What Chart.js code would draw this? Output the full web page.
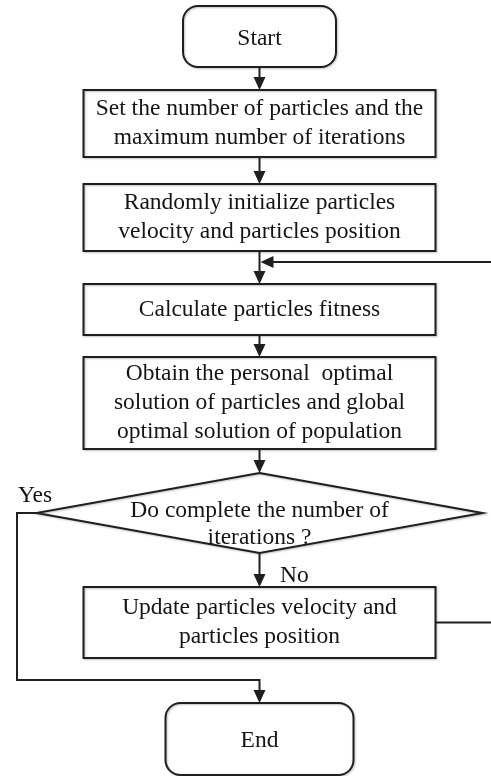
<!DOCTYPE html>
<html>
<head>
<meta charset="utf-8">
<script src="https://cdn.jsdelivr.net/npm/chart.js@4.4.1/dist/chart.umd.min.js"></script>
<style>
  html, body { margin: 0; padding: 0; background: #fff; }
  #wrap { width: 491px; height: 776px; }
</style>
</head>
<body>
<div id="wrap"><canvas id="flowChart"></canvas></div>
<script>
// 1. Flow steps (text of every box, top to bottom)
const stepLabels = [
    ['Start'],
    ['Set the number of particles and the', 'maximum number of iterations'],
    ['Randomly initialize particles', 'velocity and particles position'],
    ['Calculate particles fitness'],
    ['Obtain the personal  optimal', 'solution of particles and global', 'optimal solution of population'],
    ['Do complete the number of', 'iterations ?'],
    ['Update particles velocity and', 'particles position'],
    ['End']
];
const stepKinds = ['terminal', 'process', 'process', 'process', 'process', 'decision', 'process', 'terminal'];
const branchLabels = ['Yes', 'No'];

// links between steps: [from, to, kind]
const links = [
    [0, 1, 'down'], [1, 2, 'down'], [2, 3, 'down'], [3, 4, 'down'],
    [4, 5, 'down'], [5, 6, 'down'], [5, 7, 'yes'], [6, 3, 'loop']
];

// --- layout, in axis units (axes map 1:1 onto the page) ---
const centerX = 259.5;
const stepY = [36.5, 123.5, 217.5, 309.5, 403, 513, 622.5, 739];
const stepW = [153, 352, 352, 352, 352, 446, 352, 188];
const stepH = [61, 67, 67, 51, 92, 80, 71, 72];
const yesRailX = 17, yesBendY = 680;
const loopX = 494, loopJoinY = 262;
const lineGap = 29;

const ink = '#1f1f1f';

function arrowHead(ctx, x, y, dir) {
    // filled triangle with the tip at (x, y)
    const len = 13, half = 6;
    ctx.beginPath();
    if (dir === 'down') {
        ctx.moveTo(x, y); ctx.lineTo(x - half, y - len); ctx.lineTo(x + half, y - len);
    } else { // left
        ctx.moveTo(x, y); ctx.lineTo(x + len, y - half); ctx.lineTo(x + len, y + half);
    }
    ctx.closePath();
    ctx.fill();
}

const flowPlugin = {
    id: 'flow',
    afterDatasetsDraw(chart) {
        const ctx = chart.ctx;
        const xs = chart.scales.x, ys = chart.scales.y;
        const px = v => xs.getPixelForValue(v);
        const py = v => ys.getPixelForValue(v);
        const pts = chart.getDatasetMeta(0).data;

        const box = i => {
            const cx = pts[i].x, cy = pts[i].y;
            const w = px(stepW[i] / 2) - px(0), h = Math.abs(py(stepH[i] / 2) - py(0));
            return { cx, cy, l: cx - w, r: cx + w, t: cy - h, b: cy + h };
        };

        ctx.save();
        ctx.strokeStyle = ink;
        ctx.fillStyle = ink;
        ctx.lineWidth = 2;
        ctx.lineJoin = 'miter';

        // shapes
        stepKinds.forEach((kind, i) => {
            const b = box(i);
            ctx.save();
            ctx.shadowColor = 'rgba(0,0,0,0.25)';
            ctx.shadowBlur = 2;
            ctx.shadowOffsetX = 1;
            ctx.shadowOffsetY = 1;
            ctx.beginPath();
            if (kind === 'terminal') {
                ctx.roundRect(b.l, b.t, b.r - b.l, b.b - b.t, 15);
            } else if (kind === 'decision') {
                ctx.moveTo(b.cx, b.t); ctx.lineTo(b.r, b.cy);
                ctx.lineTo(b.cx, b.b); ctx.lineTo(b.l, b.cy); ctx.closePath();
            } else {
                ctx.rect(b.l, b.t, b.r - b.l, b.b - b.t);
            }
            ctx.stroke();
            ctx.restore();
        });

        // links
        links.forEach(([a, z, kind]) => {
            const A = box(a), Z = box(z);
            ctx.beginPath();
            if (kind === 'down') {
                ctx.moveTo(A.cx, A.b); ctx.lineTo(Z.cx, Z.t - 10);
                ctx.stroke();
                arrowHead(ctx, Z.cx, Z.t, 'down');
            } else if (kind === 'yes') {
                ctx.moveTo(A.l, A.cy); ctx.lineTo(px(yesRailX), A.cy);
                ctx.lineTo(px(yesRailX), py(yesBendY)); ctx.lineTo(Z.cx, py(yesBendY));
                ctx.lineTo(Z.cx, Z.t - 10);
                ctx.stroke();
                arrowHead(ctx, Z.cx, Z.t, 'down');
            } else { // loop back into the arrow above the target
                ctx.moveTo(A.r, A.cy); ctx.lineTo(px(loopX), A.cy);
                ctx.lineTo(px(loopX), py(loopJoinY)); ctx.lineTo(Z.cx + 10, py(loopJoinY));
                ctx.stroke();
                arrowHead(ctx, Z.cx + 1, py(loopJoinY), 'left');
            }
        });

        // texts
        ctx.font = '23.5px "Liberation Serif", "Times New Roman", serif';
        ctx.fillStyle = '#151515';
        ctx.textAlign = 'center';
        ctx.textBaseline = 'middle';
        stepLabels.forEach((lines, i) => {
            const b = box(i);
            const gap = stepKinds[i] === 'decision' ? 27 : lineGap;
            const shift = stepKinds[i] === 'decision' ? 11.5 : (stepKinds[i] === 'terminal' ? 2 : 0);
            const top = b.cy + shift - (lines.length - 1) * gap / 2;
            lines.forEach((ln, k) => ctx.fillText(ln, b.cx, top + k * gap));
        });

        // branch labels
        ctx.textAlign = 'left';
        ctx.fillText(branchLabels[0], px(18), py(496));
        ctx.fillText(branchLabels[1], px(280), py(576));
        ctx.restore();
    }
};

new Chart(document.getElementById('flowChart').getContext('2d'), {
    type: 'scatter',
    data: {
        datasets: [{
            label: 'steps',
            data: stepY.map(y => ({ x: centerX, y })),
            pointRadius: 0,
            showLine: false
        }]
    },
    options: {
        responsive: true,
        maintainAspectRatio: false,
        animation: false,
        layout: { padding: 0 },
        scales: {
            x: { type: 'linear', min: 0, max: 491, display: false },
            y: { type: 'linear', min: 0, max: 776, reverse: true, display: false }
        },
        plugins: {
            legend: { display: false },
            tooltip: { enabled: false }
        }
    },
    plugins: [flowPlugin]
});
</script>
</body>
</html>
